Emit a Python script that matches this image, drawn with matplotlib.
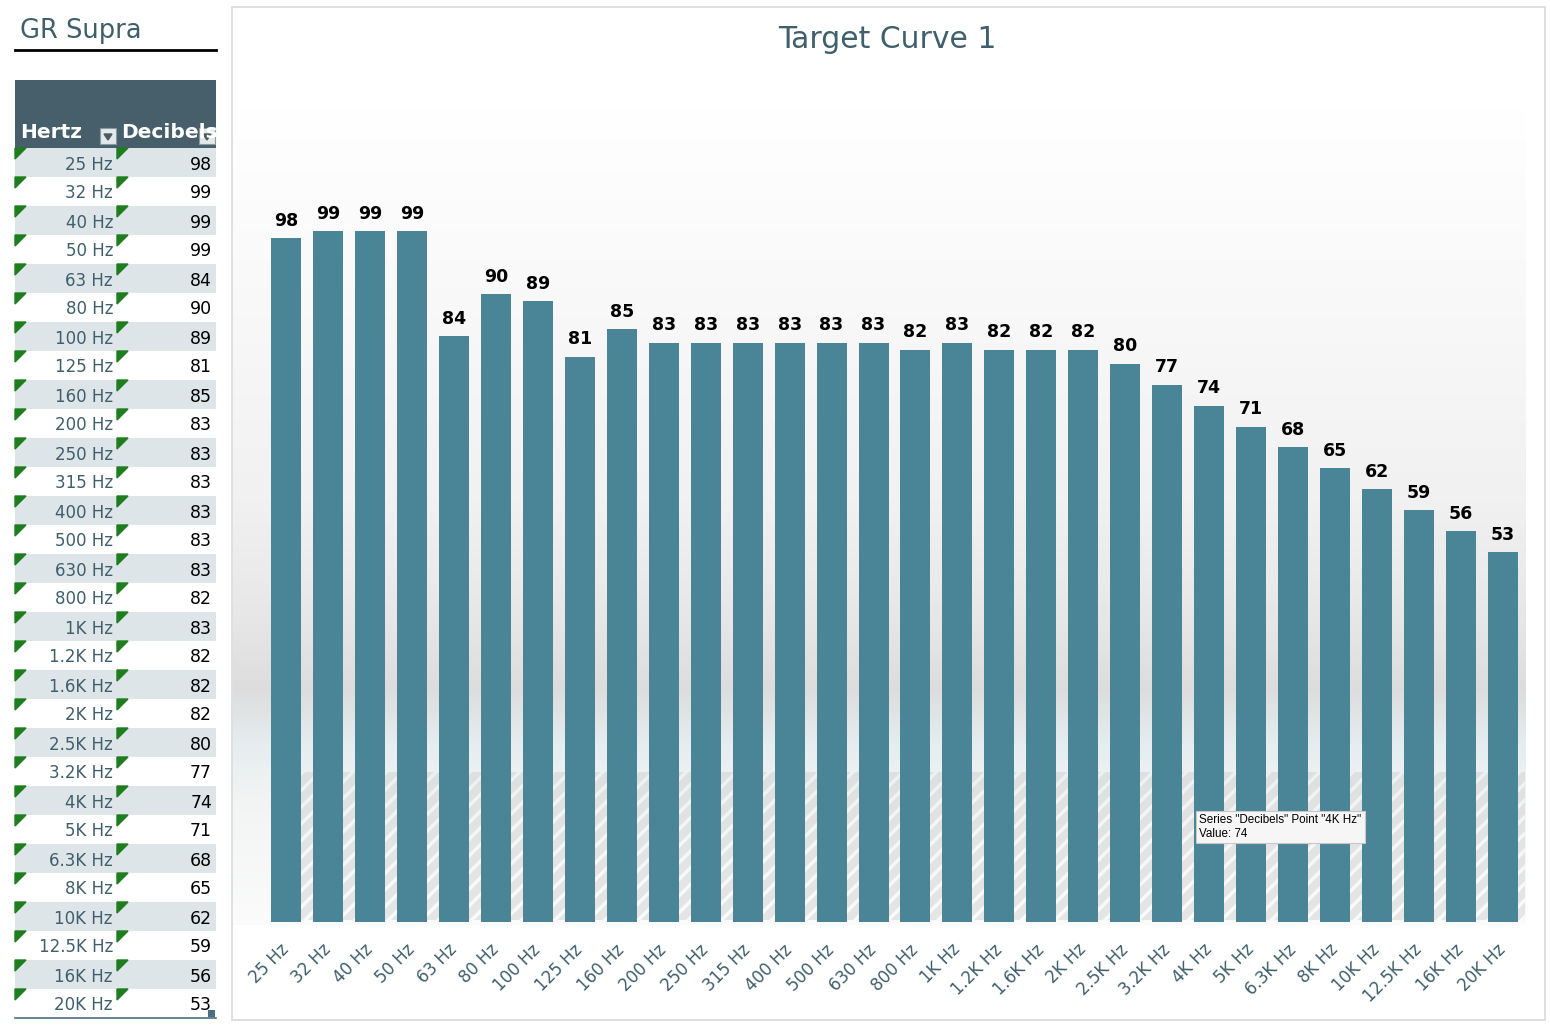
import numpy as np
import matplotlib
matplotlib.use("Agg")
import matplotlib.pyplot as plt
from matplotlib.patches import Rectangle, Polygon

# ---- data ----
sheet_title = "GR Supra"
chart_title = "Target Curve 1"
hertz = ["25 Hz", "32 Hz", "40 Hz", "50 Hz", "63 Hz", "80 Hz", "100 Hz", "125 Hz",
         "160 Hz", "200 Hz", "250 Hz", "315 Hz", "400 Hz", "500 Hz", "630 Hz", "800 Hz",
         "1K Hz", "1.2K Hz", "1.6K Hz", "2K Hz", "2.5K Hz", "3.2K Hz", "4K Hz", "5K Hz",
         "6.3K Hz", "8K Hz", "10K Hz", "12.5K Hz", "16K Hz", "20K Hz"]
decibels = [98, 99, 99, 99, 84, 90, 89, 81, 85, 83, 83, 83, 83, 83, 83, 82,
            83, 82, 82, 82, 80, 77, 74, 71, 68, 65, 62, 59, 56, 53]
hover_point = "4K Hz"

W, H = 1550, 1025
BAR = "#4a8497"
SLATE = "#3e5f6b"

fig = plt.figure(figsize=(W / 100, H / 100), dpi=100)
fig.patch.set_facecolor("white")

# pixel-space overlay for the sheet + chart frame
bg = fig.add_axes([0, 0, 1, 1])
bg.set_axis_off()

# chart area gradient (excel plot area fill)
stops_y = [110, 300, 500, 620, 690, 745, 800, 925]
stops_c = np.array([[1.0, 1.0, 1.0], [0.975, 0.975, 0.975], [0.945, 0.945, 0.945],
                    [0.905, 0.905, 0.905], [0.865, 0.865, 0.865], [0.90, 0.93, 0.94],
                    [0.95, 0.955, 0.955], [0.985, 0.985, 0.985]])
ys = np.arange(110, 926)
grad = np.stack([np.interp(ys, stops_y, stops_c[:, k]) for k in range(3)], axis=1)
bg.imshow(grad[:, None, :], extent=(233, 1526, 925, 110), origin="upper", aspect="auto")

# faint shadow stripes near the bottom
plt.rcParams["hatch.linewidth"] = 6
bg.add_patch(Rectangle((300, 772), 1225, 148, facecolor="none", edgecolor="#cccccc",
                       hatch="//", linewidth=0, alpha=0.45))

# chart frame
bg.add_patch(Rectangle((232, 7), 1313, 1013, facecolor="none", edgecolor="#d9d9d9", lw=1.2))

# ---- left sheet table ----
bg.text(20, 31, sheet_title, fontsize=18.5, color=SLATE, va="center", ha="left")
bg.plot([15, 216], [50, 50], color="black", lw=2)
bg.add_patch(Rectangle((15, 80), 201, 68, facecolor="#465f6a", edgecolor="none"))
bg.text(20, 133, "Hertz", fontsize=14.5, fontweight="bold", color="white", va="center")
bg.text(121, 133, "Decibels", fontsize=14.5, fontweight="bold", color="white", va="center",
        clip_on=True)
for x0 in (100, 199):
    bg.add_patch(Rectangle((x0, 128), 16, 16, facecolor="#e3e8ea", edgecolor="#8a9aa1", lw=0.8))
    bg.add_patch(Polygon([(x0 + 4, 134), (x0 + 12, 134), (x0 + 8, 140)], color="#4a5a60"))

row_h = 29.0
top = 148
for i, (hz, db) in enumerate(zip(hertz, decibels)):
    y0 = top + i * row_h
    if i % 2 == 0:
        bg.add_patch(Rectangle((15, y0), 201, row_h, facecolor="#dde5e8", edgecolor="none"))
    yc = y0 + row_h / 2 + 2
    bg.text(113, yc, hz, fontsize=12, color=SLATE, ha="right", va="center")
    bg.text(212, yc, str(db), fontsize=12.5, color="black", ha="right", va="center")
    for gx in (15, 117):
        bg.add_patch(Polygon([(gx, y0), (gx + 11, y0), (gx, y0 + 11)], color="#1e7d1e"))
bg.plot([15, 216], [top + len(hertz) * row_h, top + len(hertz) * row_h], color="#4a6f7e", lw=1.2)
bg.add_patch(Rectangle((208, 1010), 7, 7, facecolor="#4a6f7e", edgecolor="none"))

bg.set_xlim(0, W)
bg.set_ylim(H, 0)

# ---- chart ----
base_y, top_y = 922, 150
px_per_db = 6.978
ax = fig.add_axes([265 / W, 1 - base_y / H, (1524 - 265) / W, (base_y - top_y) / H])
ax.patch.set_alpha(0)
x = np.arange(len(hertz))
bars = ax.bar(x, decibels, width=0.715, color=BAR, zorder=2)
ax.bar_label(bars, padding=6, fontsize=12.5, fontweight="bold", color="black")
ax.set_xlim(-0.5, len(hertz) - 0.5)
ax.set_ylim(0, (base_y - top_y) / px_per_db)
ax.set_xticks(x)
ax.set_xticklabels(hertz, rotation=45, ha="right", va="center", rotation_mode="anchor",
                   fontsize=12, color=SLATE)
ax.tick_params(axis="x", length=0, pad=18)
ax.set_yticks([])
for s in ax.spines.values():
    s.set_visible(False)

fig.text(887 / W, 1 - 40 / H, chart_title, fontsize=21.5, color=SLATE, ha="center", va="center")

# hover tooltip captured in the screenshot
hv = decibels[hertz.index(hover_point)]
fig.text(1199 / W, 1 - 827 / H, f'Series "Decibels" Point "{hover_point}"\nValue: {hv}',
         fontsize=8.4, family="Liberation Sans", color="black", va="center", ha="left",
         linespacing=1.15, zorder=10,
         bbox=dict(boxstyle="square,pad=0.3", facecolor="#f6f6f6", edgecolor="#c8c8c8", lw=0.8))

fig.savefig("out.png", dpi=100)
